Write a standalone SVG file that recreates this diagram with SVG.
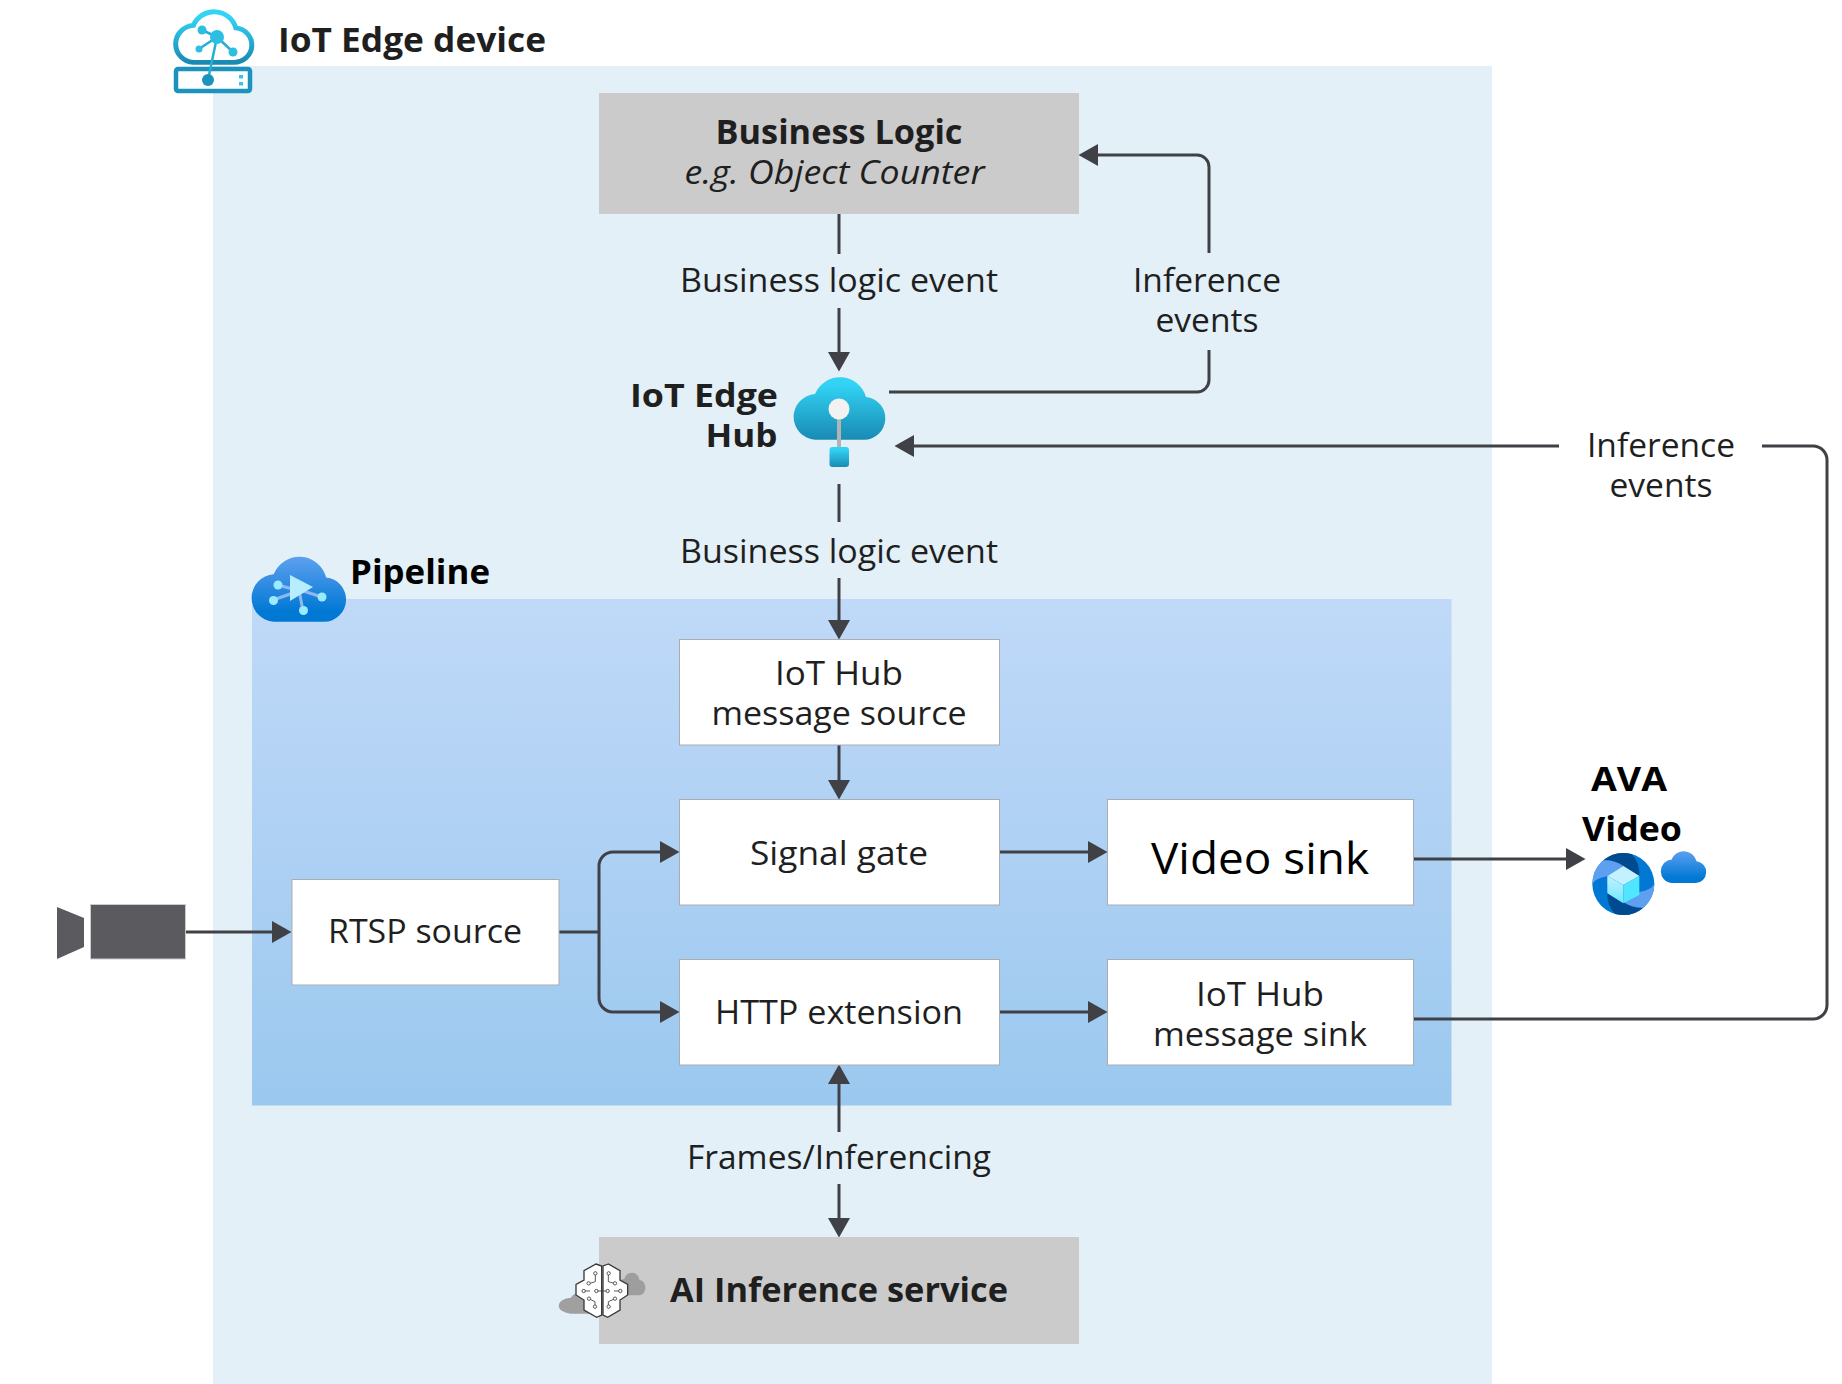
<svg xmlns="http://www.w3.org/2000/svg" xmlns:xlink="http://www.w3.org/1999/xlink" width="1842" height="1384" viewBox="0 0 1842 1384">
<style>
text{font-family:"Open Sans","Noto Sans","Liberation Sans",sans-serif;fill:#1f1f1f;font-size:32px;text-anchor:middle}
.b{font-weight:700;font-size:34px}
.s{font-size:32px}
.k{fill:#000}
.box{fill:#fff;stroke:#a9adb2;stroke-width:1}
.gray{fill:#cbcbcb}
.c{fill:none;stroke:#404047;stroke-width:3;marker-end:url(#arr)}
.n{fill:none;stroke:#404047;stroke-width:3}
</style>
<defs>
<marker id="arr" markerUnits="userSpaceOnUse" markerWidth="20" markerHeight="24" viewBox="0 0 20 24" refX="1" refY="12" orient="auto-start-reverse"><path d="M0 1L19.500 12L0 23Z" fill="#404047"/></marker>
<path id="cloud" d="M21 64.700H70A21.400 21.400 0 0 0 72 22A27 27 0 0 0 21 19A22.900 22.900 0 0 0 21 64.700Z"/>
<linearGradient id="cy" x1="0" y1="0" x2="0" y2="1"><stop offset=".1" stop-color="#32d4f5"/><stop offset="1" stop-color="#198ab3"/></linearGradient>
<linearGradient id="bl" x1="0" y1="0" x2="0" y2="1"><stop offset="0" stop-color="#5ea0ef"/><stop offset=".85" stop-color="#0078d4"/></linearGradient>
<linearGradient id="pipe" x1="0" y1="0" x2="0" y2="1"><stop offset="0" stop-color="#c0d9f8"/><stop offset="1" stop-color="#9bc8ef"/></linearGradient>
<linearGradient id="cube" x1="0" y1="0" x2="0" y2="1"><stop offset="0" stop-color="#c3f1ff"/><stop offset="1" stop-color="#6fe7ff"/></linearGradient>
</defs>
<rect id="edge-device" x="213" y="66" width="1279" height="1318" fill="#e3f0f7"/>
<rect id="pipeline" x="252" y="599" width="1199.500" height="506.500" fill="url(#pipe)"/>

<g id="connectors">
<path class="c" d="M839 214V254M839 308V353"/>
<path class="c" d="M889 392H1197A12 12 0 0 0 1209 380V350M1209 253V167A12 12 0 0 0 1197 155H1097"/>
<path class="n" d="M839 484V522"/>
<path class="c" d="M839 578V621"/>
<path class="c" d="M1559 446H913"/>
<path class="n" d="M1413 1019H1813A14 14 0 0 0 1827 1005V460A14 14 0 0 0 1813 446H1762"/>
<path class="c" d="M839 745V781"/>
<path class="c" d="M1000 852H1089"/>
<path class="c" d="M1413 859H1567"/>
<path class="c" d="M185 932H273"/>
<path class="n" d="M559 932H599"/>
<path class="c" d="M599 932V866A14 14 0 0 1 613 852H661"/>
<path class="c" d="M599 932V998A14 14 0 0 0 613 1012H661"/>
<path class="c" d="M1000 1012H1089"/>
<path class="n" style="marker-start:url(#arr)" d="M839 1083V1132"/>
<path class="c" d="M839 1184V1219"/>
</g>

<g id="edge-title">
<use xlink:href="#cloud" transform="translate(176 10) scale(.83 .81)" stroke="url(#cy)" stroke-width="6" fill="none"/>
<rect x="176" y="69" width="74" height="22" rx="2" fill="#fff" stroke="#1b93bd" stroke-width="4.500"/>
<g stroke="#24afd7" stroke-width="2.500"><path d="M217 37L202 30M217 37L199 49M217 37L233 52M217 37L208 80"/></g>
<circle cx="217" cy="37" r="7" fill="#2cbfe2"/><circle cx="202" cy="30" r="4.500" fill="#2cbfe2"/><circle cx="199" cy="49" r="3.500" fill="#2cbfe2"/><circle cx="233" cy="52" r="4.500" fill="#2cbfe2"/><circle cx="208" cy="80" r="6" fill="#1b93bd"/>
<rect x="239" y="75" width="4" height="3.500" fill="#32c5e8"/><rect x="239" y="82" width="4" height="3.500" fill="#32c5e8"/>
<text class="b" x="412" y="52" textLength="268" lengthAdjust="spacingAndGlyphs">IoT Edge device</text>
</g>

<g id="business-logic">
<rect class="gray" x="599" y="93" width="480" height="121"/>
<text class="b" x="839" y="144" textLength="247" lengthAdjust="spacingAndGlyphs">Business Logic</text>
<text x="834.500" y="184" font-style="italic" textLength="300" lengthAdjust="spacingAndGlyphs">e.g. Object Counter</text>
</g>

<g id="labels">
<text x="839" y="292" textLength="318" lengthAdjust="spacingAndGlyphs">Business logic event</text>
<text x="1207" y="292" textLength="148" lengthAdjust="spacingAndGlyphs">Inference</text>
<text x="1207" y="332" textLength="103" lengthAdjust="spacingAndGlyphs">events</text>
<text x="1661" y="457" textLength="148" lengthAdjust="spacingAndGlyphs">Inference</text>
<text x="1661" y="497" textLength="103" lengthAdjust="spacingAndGlyphs">events</text>
<text x="839" y="563" textLength="318" lengthAdjust="spacingAndGlyphs">Business logic event</text>
<text x="839" y="1169" textLength="304" lengthAdjust="spacingAndGlyphs">Frames/Inferencing</text>
</g>

<g id="iot-edge-hub">
<use xlink:href="#cloud" transform="translate(794 375)" fill="url(#cy)"/>
<rect x="837" y="415" width="4" height="34" fill="#b3b3b3"/>
<circle cx="839" cy="409" r="10.500" fill="#f2f2f2"/>
<rect x="829.500" y="447" width="19.500" height="20" rx="3" fill="url(#cy)"/>
<text class="b s" x="704" y="407" textLength="148" lengthAdjust="spacingAndGlyphs">IoT Edge</text>
<text class="b s" x="741.500" y="447" textLength="72" lengthAdjust="spacingAndGlyphs">Hub</text>
</g>

<g id="pipeline-title">
<use xlink:href="#cloud" transform="translate(252 554.500) scale(1.030 1.040)" fill="url(#bl)"/>
<g stroke="#8fb8f0" stroke-width="3"><path d="M278 585L296 590M273 600L296 592M322 597L300 590M303 611L299 590"/></g>
<path d="M290 575L313 587L290 601Z" fill="#b8ecff"/>
<g fill="#9bebff"><circle cx="278" cy="585" r="4.500"/><circle cx="273.500" cy="600.500" r="4.500"/><circle cx="322" cy="597" r="4.500"/><circle cx="303.500" cy="610.500" r="4.500"/></g>
<text class="b k" x="420" y="584" textLength="140" lengthAdjust="spacingAndGlyphs">Pipeline</text>
</g>

<g id="iot-hub-source"><rect class="box" x="679.500" y="639.500" width="320" height="105.500"/>
<text x="839" y="685" textLength="128" lengthAdjust="spacingAndGlyphs">IoT Hub</text>
<text x="839" y="725" textLength="255" lengthAdjust="spacingAndGlyphs">message source</text></g>
<g id="signal-gate"><rect class="box" x="679.500" y="799.500" width="320" height="105.500"/>
<text x="839" y="864.500" textLength="178" lengthAdjust="spacingAndGlyphs">Signal gate</text></g>
<g id="http-extension"><rect class="box" x="679.500" y="959.500" width="320" height="105.500"/>
<text x="839" y="1023.500" textLength="248" lengthAdjust="spacingAndGlyphs">HTTP extension</text></g>
<g id="video-sink"><rect class="box" x="1107.500" y="799.500" width="306" height="105.500"/>
<text x="1260" y="874" style="font-size:44px;fill:#000" textLength="218" lengthAdjust="spacingAndGlyphs">Video sink</text></g>
<g id="iot-hub-sink"><rect class="box" x="1107.500" y="959.500" width="306" height="105.500"/>
<text x="1260" y="1006" textLength="128" lengthAdjust="spacingAndGlyphs">IoT Hub</text>
<text x="1260" y="1046" textLength="214" lengthAdjust="spacingAndGlyphs">message sink</text></g>
<g id="rtsp-source"><rect class="box" x="292" y="879.500" width="267" height="105.500"/>
<text x="425" y="942.500" textLength="194" lengthAdjust="spacingAndGlyphs">RTSP source</text></g>

<g id="camera">
<path d="M57 907L84 918V947L57 959Z" fill="#5a5a5f"/>
<rect x="90.500" y="904.500" width="95" height="54.500" fill="#5a5a5f" stroke="#c9cdd2" stroke-width="1"/>
</g>

<g id="ava">
<text class="b k" x="1629" y="791" textLength="76" lengthAdjust="spacingAndGlyphs">AVA</text>
<text class="b k" x="1632" y="841" textLength="100" lengthAdjust="spacingAndGlyphs">Video</text>
<g transform="translate(1560 750) scale(.33333)">
<circle cx="190" cy="402" r="93" fill="#0078d4"/>
<path d="M130 331A93 93 0 0 1 216 313Q240 340 238 378L190 348Q160 328 130 331Z" fill="#004a8f"/>
<path d="M97 402A93 93 0 0 1 130 331Q165 330 190 348L142 378Q105 385 97 402Z" fill="#5ea0ef"/>
<g transform="rotate(180 190 402)">
<path d="M130 331A93 93 0 0 1 216 313Q240 340 238 378L190 348Q160 328 130 331Z" fill="#004a8f"/>
<path d="M97 402A93 93 0 0 1 130 331Q165 330 190 348L142 378Q105 385 97 402Z" fill="#5ea0ef"/>
</g>
<path d="M190 348L238 378L190 405L142 378Z" fill="#c3f1ff"/>
<path d="M142 378L190 405V460L142 430Z" fill="url(#cube)"/>
<path d="M238 378L190 405V460L238 435Z" fill="#50e6ff"/>
</g>
<use xlink:href="#cloud" transform="translate(1661 850) scale(.495 .51)" fill="url(#bl)"/>
</g>

<g id="ai-inference">
<rect class="gray" x="599" y="1237" width="480" height="107"/>
<use xlink:href="#cloud" transform="translate(559 1291) scale(.56 .35)" fill="#a0a0a0"/>
<use xlink:href="#cloud" transform="translate(618 1272) scale(.3 .36)" fill="#9e9e9e"/>
<g transform="translate(540 1240) scale(.33333)" fill="#fff" stroke="#3a3a3a" stroke-width="4">
<path d="M168 72L185 78V225L170 232L132 210V180L108 165V133L132 120V92Z"/>
<path d="M205 72L189 78V225L203 232L240 210V180L263 165V133L240 120V92Z"/>
<g fill="none" stroke-width="2.500"><path d="M166 105V125L150 130M130 153H150M170 153H200M146 176L165 185V195M205 105V125L222 130M240 153H222M225 176L205 185V195"/></g>
<g stroke-width="2.500"><circle cx="166" cy="100" r="5"/><circle cx="146" cy="130" r="5"/><circle cx="131" cy="153" r="5"/><circle cx="169" cy="153" r="5"/><circle cx="147" cy="176" r="5"/><circle cx="165" cy="200" r="5"/><circle cx="206" cy="100" r="5"/><circle cx="225" cy="130" r="5"/><circle cx="241" cy="153" r="5"/><circle cx="203" cy="153" r="5"/><circle cx="225" cy="176" r="5"/><circle cx="206" cy="200" r="5"/></g>
</g>
<text class="b" x="839" y="1302" textLength="338" lengthAdjust="spacingAndGlyphs">AI Inference service</text>
</g>
</svg>
